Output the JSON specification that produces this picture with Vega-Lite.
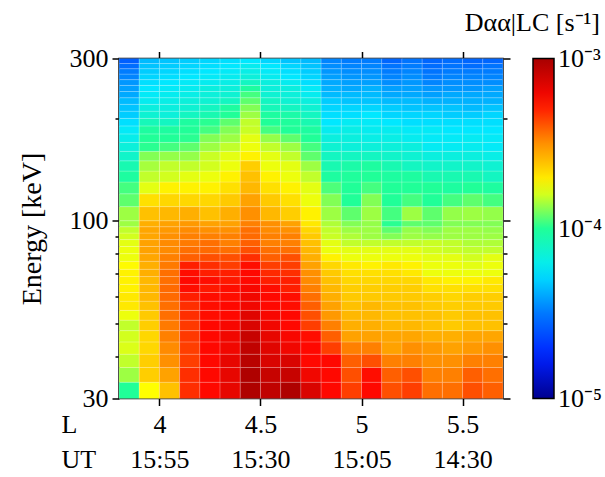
{
  "$schema": "https://vega.github.io/schema/vega-lite/v6.json",
  "width": 384,
  "height": 340,
  "autosize": {"type": "none"},
  "padding": {"left": 119, "top": 58.5, "right": 102, "bottom": 78.5},
  "background": "white",
  "title": {
    "text": "Dαα|LC [s⁻¹]",
    "anchor": "end",
    "frame": "group",
    "dx": 97,
    "dy": 37,
    "offset": 26,
    "baseline": "alphabetic",
    "fontSize": 26,
    "fontWeight": "normal",
    "color": "black"
  },
  "datasets": {
    "cols": [
      {"c": 0, "l0": 3.8, "l1": 3.9}, {"c": 1, "l0": 3.9, "l1": 4.0}, {"c": 2, "l0": 4.0, "l1": 4.1},
      {"c": 3, "l0": 4.1, "l1": 4.2}, {"c": 4, "l0": 4.2, "l1": 4.3}, {"c": 5, "l0": 4.3, "l1": 4.4},
      {"c": 6, "l0": 4.4, "l1": 4.5}, {"c": 7, "l0": 4.5, "l1": 4.6}, {"c": 8, "l0": 4.6, "l1": 4.7},
      {"c": 9, "l0": 4.7, "l1": 4.8}, {"c": 10, "l0": 4.8, "l1": 4.9}, {"c": 11, "l0": 4.9, "l1": 5.0},
      {"c": 12, "l0": 5.0, "l1": 5.1}, {"c": 13, "l0": 5.1, "l1": 5.2}, {"c": 14, "l0": 5.2, "l1": 5.3},
      {"c": 15, "l0": 5.3, "l1": 5.4}, {"c": 16, "l0": 5.4, "l1": 5.5}, {"c": 17, "l0": 5.5, "l1": 5.6},
      {"c": 18, "l0": 5.6, "l1": 5.7}
    ],
    "rows": [
      {"r": 0, "e0": 30, "e1": 33.5}, {"r": 1, "e0": 33.5, "e1": 37}, {"r": 2, "e0": 37, "e1": 40.5},
      {"r": 3, "e0": 40.5, "e1": 44}, {"r": 4, "e0": 44, "e1": 47.5}, {"r": 5, "e0": 47.5, "e1": 51},
      {"r": 6, "e0": 51, "e1": 54.5}, {"r": 7, "e0": 54.5, "e1": 58}, {"r": 8, "e0": 58, "e1": 61.5},
      {"r": 9, "e0": 61.5, "e1": 65}, {"r": 10, "e0": 65, "e1": 68.5}, {"r": 11, "e0": 68.5, "e1": 72},
      {"r": 12, "e0": 72, "e1": 76}, {"r": 13, "e0": 76, "e1": 80}, {"r": 14, "e0": 80, "e1": 84},
      {"r": 15, "e0": 84, "e1": 88}, {"r": 16, "e0": 88, "e1": 92}, {"r": 17, "e0": 92, "e1": 96},
      {"r": 18, "e0": 96, "e1": 100}, {"r": 19, "e0": 100, "e1": 110}, {"r": 20, "e0": 110, "e1": 120},
      {"r": 21, "e0": 120, "e1": 130}, {"r": 22, "e0": 130, "e1": 140}, {"r": 23, "e0": 140, "e1": 150},
      {"r": 24, "e0": 150, "e1": 160}, {"r": 25, "e0": 160, "e1": 170}, {"r": 26, "e0": 170, "e1": 180},
      {"r": 27, "e0": 180, "e1": 190}, {"r": 28, "e0": 190, "e1": 200}, {"r": 29, "e0": 200, "e1": 210},
      {"r": 30, "e0": 210, "e1": 220}, {"r": 31, "e0": 220, "e1": 230}, {"r": 32, "e0": 230, "e1": 240},
      {"r": 33, "e0": 240, "e1": 250}, {"r": 34, "e0": 250, "e1": 260}, {"r": 35, "e0": 260, "e1": 270},
      {"r": 36, "e0": 270, "e1": 280}, {"r": 37, "e0": 280, "e1": 290}, {"r": 38, "e0": 290, "e1": 300}
    ],
    "cells": [
      {"c":0,"r":0,"v":-4.00},{"c":0,"r":1,"v":-3.86},{"c":0,"r":2,"v":-3.82},{"c":0,"r":3,"v":-3.79},{"c":0,"r":4,"v":-3.80},{"c":0,"r":5,"v":-3.82},{"c":0,"r":6,"v":-3.77},{"c":0,"r":7,"v":-3.70},{"c":0,"r":8,"v":-3.70},{"c":0,"r":9,"v":-3.72},{"c":0,"r":10,"v":-3.72},{"c":0,"r":11,"v":-3.72},{"c":0,"r":12,"v":-3.74},{"c":0,"r":13,"v":-3.77},{"c":0,"r":14,"v":-3.77},{"c":0,"r":15,"v":-3.78},{"c":0,"r":16,"v":-3.80},{"c":0,"r":17,"v":-3.82},{"c":0,"r":18,"v":-3.86},
      {"c":0,"r":19,"v":-3.86},{"c":0,"r":20,"v":-3.93},{"c":0,"r":21,"v":-3.96},{"c":0,"r":22,"v":-4.02},{"c":0,"r":23,"v":-4.06},{"c":0,"r":24,"v":-4.12},{"c":0,"r":25,"v":-4.16},{"c":0,"r":26,"v":-4.20},{"c":0,"r":27,"v":-4.23},{"c":0,"r":28,"v":-4.27},{"c":0,"r":29,"v":-4.31},{"c":0,"r":30,"v":-4.33},{"c":0,"r":31,"v":-4.35},{"c":0,"r":32,"v":-4.39},{"c":0,"r":33,"v":-4.41},{"c":0,"r":34,"v":-4.43},{"c":0,"r":35,"v":-4.47},{"c":0,"r":36,"v":-4.49},{"c":0,"r":37,"v":-4.53},{"c":0,"r":38,"v":-4.57},
      {"c":1,"r":0,"v":-3.75},{"c":1,"r":1,"v":-3.64},{"c":1,"r":2,"v":-3.64},{"c":1,"r":3,"v":-3.66},{"c":1,"r":4,"v":-3.66},{"c":1,"r":5,"v":-3.64},{"c":1,"r":6,"v":-3.63},{"c":1,"r":7,"v":-3.61},{"c":1,"r":8,"v":-3.59},{"c":1,"r":9,"v":-3.59},{"c":1,"r":10,"v":-3.59},{"c":1,"r":11,"v":-3.57},{"c":1,"r":12,"v":-3.57},{"c":1,"r":13,"v":-3.55},{"c":1,"r":14,"v":-3.54},{"c":1,"r":15,"v":-3.54},{"c":1,"r":16,"v":-3.55},{"c":1,"r":17,"v":-3.55},{"c":1,"r":18,"v":-3.57},
      {"c":1,"r":19,"v":-3.61},{"c":1,"r":20,"v":-3.68},{"c":1,"r":21,"v":-3.78},{"c":1,"r":22,"v":-3.82},{"c":1,"r":23,"v":-3.85},{"c":1,"r":24,"v":-3.89},{"c":1,"r":25,"v":-3.99},{"c":1,"r":26,"v":-4.00},{"c":1,"r":27,"v":-4.02},{"c":1,"r":28,"v":-4.08},{"c":1,"r":29,"v":-4.14},{"c":1,"r":30,"v":-4.17},{"c":1,"r":31,"v":-4.21},{"c":1,"r":32,"v":-4.23},{"c":1,"r":33,"v":-4.25},{"c":1,"r":34,"v":-4.27},{"c":1,"r":35,"v":-4.29},{"c":1,"r":36,"v":-4.31},{"c":1,"r":37,"v":-4.33},{"c":1,"r":38,"v":-4.35},
      {"c":2,"r":0,"v":-3.61},{"c":2,"r":1,"v":-3.54},{"c":2,"r":2,"v":-3.50},{"c":2,"r":3,"v":-3.49},{"c":2,"r":4,"v":-3.47},{"c":2,"r":5,"v":-3.46},{"c":2,"r":6,"v":-3.44},{"c":2,"r":7,"v":-3.44},{"c":2,"r":8,"v":-3.43},{"c":2,"r":9,"v":-3.43},{"c":2,"r":10,"v":-3.44},{"c":2,"r":11,"v":-3.44},{"c":2,"r":12,"v":-3.46},{"c":2,"r":13,"v":-3.47},{"c":2,"r":14,"v":-3.49},{"c":2,"r":15,"v":-3.49},{"c":2,"r":16,"v":-3.50},{"c":2,"r":17,"v":-3.52},{"c":2,"r":18,"v":-3.54},
      {"c":2,"r":19,"v":-3.59},{"c":2,"r":20,"v":-3.66},{"c":2,"r":21,"v":-3.72},{"c":2,"r":22,"v":-3.80},{"c":2,"r":23,"v":-3.82},{"c":2,"r":24,"v":-3.87},{"c":2,"r":25,"v":-3.96},{"c":2,"r":26,"v":-4.00},{"c":2,"r":27,"v":-4.02},{"c":2,"r":28,"v":-4.10},{"c":2,"r":29,"v":-4.16},{"c":2,"r":30,"v":-4.17},{"c":2,"r":31,"v":-4.19},{"c":2,"r":32,"v":-4.21},{"c":2,"r":33,"v":-4.23},{"c":2,"r":34,"v":-4.25},{"c":2,"r":35,"v":-4.27},{"c":2,"r":36,"v":-4.29},{"c":2,"r":37,"v":-4.31},{"c":2,"r":38,"v":-4.33},
      {"c":3,"r":0,"v":-3.32},{"c":3,"r":1,"v":-3.32},{"c":3,"r":2,"v":-3.35},{"c":3,"r":3,"v":-3.35},{"c":3,"r":4,"v":-3.34},{"c":3,"r":5,"v":-3.34},{"c":3,"r":6,"v":-3.32},{"c":3,"r":7,"v":-3.32},{"c":3,"r":8,"v":-3.29},{"c":3,"r":9,"v":-3.26},{"c":3,"r":10,"v":-3.25},{"c":3,"r":11,"v":-3.26},{"c":3,"r":12,"v":-3.29},{"c":3,"r":13,"v":-3.41},{"c":3,"r":14,"v":-3.44},{"c":3,"r":15,"v":-3.46},{"c":3,"r":16,"v":-3.47},{"c":3,"r":17,"v":-3.49},{"c":3,"r":18,"v":-3.52},
      {"c":3,"r":19,"v":-3.57},{"c":3,"r":20,"v":-3.66},{"c":3,"r":21,"v":-3.72},{"c":3,"r":22,"v":-3.78},{"c":3,"r":23,"v":-3.82},{"c":3,"r":24,"v":-3.87},{"c":3,"r":25,"v":-3.93},{"c":3,"r":26,"v":-3.99},{"c":3,"r":27,"v":-4.00},{"c":3,"r":28,"v":-4.02},{"c":3,"r":29,"v":-4.10},{"c":3,"r":30,"v":-4.14},{"c":3,"r":31,"v":-4.16},{"c":3,"r":32,"v":-4.19},{"c":3,"r":33,"v":-4.21},{"c":3,"r":34,"v":-4.23},{"c":3,"r":35,"v":-4.25},{"c":3,"r":36,"v":-4.27},{"c":3,"r":37,"v":-4.29},{"c":3,"r":38,"v":-4.31},
      {"c":4,"r":0,"v":-3.25},{"c":4,"r":1,"v":-3.25},{"c":4,"r":2,"v":-3.25},{"c":4,"r":3,"v":-3.25},{"c":4,"r":4,"v":-3.25},{"c":4,"r":5,"v":-3.25},{"c":4,"r":6,"v":-3.26},{"c":4,"r":7,"v":-3.26},{"c":4,"r":8,"v":-3.26},{"c":4,"r":9,"v":-3.28},{"c":4,"r":10,"v":-3.26},{"c":4,"r":11,"v":-3.29},{"c":4,"r":12,"v":-3.32},{"c":4,"r":13,"v":-3.38},{"c":4,"r":14,"v":-3.43},{"c":4,"r":15,"v":-3.44},{"c":4,"r":16,"v":-3.47},{"c":4,"r":17,"v":-3.50},{"c":4,"r":18,"v":-3.54},
      {"c":4,"r":19,"v":-3.61},{"c":4,"r":20,"v":-3.66},{"c":4,"r":21,"v":-3.72},{"c":4,"r":22,"v":-3.77},{"c":4,"r":23,"v":-3.80},{"c":4,"r":24,"v":-3.81},{"c":4,"r":25,"v":-3.86},{"c":4,"r":26,"v":-3.89},{"c":4,"r":27,"v":-3.96},{"c":4,"r":28,"v":-3.99},{"c":4,"r":29,"v":-4.06},{"c":4,"r":30,"v":-4.10},{"c":4,"r":31,"v":-4.14},{"c":4,"r":32,"v":-4.16},{"c":4,"r":33,"v":-4.17},{"c":4,"r":34,"v":-4.21},{"c":4,"r":35,"v":-4.23},{"c":4,"r":36,"v":-4.25},{"c":4,"r":37,"v":-4.27},{"c":4,"r":38,"v":-4.29},
      {"c":5,"r":0,"v":-3.18},{"c":5,"r":1,"v":-3.18},{"c":5,"r":2,"v":-3.18},{"c":5,"r":3,"v":-3.21},{"c":5,"r":4,"v":-3.21},{"c":5,"r":5,"v":-3.23},{"c":5,"r":6,"v":-3.25},{"c":5,"r":7,"v":-3.25},{"c":5,"r":8,"v":-3.26},{"c":5,"r":9,"v":-3.26},{"c":5,"r":10,"v":-3.28},{"c":5,"r":11,"v":-3.29},{"c":5,"r":12,"v":-3.35},{"c":5,"r":13,"v":-3.38},{"c":5,"r":14,"v":-3.44},{"c":5,"r":15,"v":-3.47},{"c":5,"r":16,"v":-3.47},{"c":5,"r":17,"v":-3.50},{"c":5,"r":18,"v":-3.54},
      {"c":5,"r":19,"v":-3.57},{"c":5,"r":20,"v":-3.63},{"c":5,"r":21,"v":-3.68},{"c":5,"r":22,"v":-3.72},{"c":5,"r":23,"v":-3.77},{"c":5,"r":24,"v":-3.78},{"c":5,"r":25,"v":-3.82},{"c":5,"r":26,"v":-3.86},{"c":5,"r":27,"v":-3.89},{"c":5,"r":28,"v":-3.93},{"c":5,"r":29,"v":-4.00},{"c":5,"r":30,"v":-4.02},{"c":5,"r":31,"v":-4.10},{"c":5,"r":32,"v":-4.14},{"c":5,"r":33,"v":-4.16},{"c":5,"r":34,"v":-4.19},{"c":5,"r":35,"v":-4.21},{"c":5,"r":36,"v":-4.23},{"c":5,"r":37,"v":-4.25},{"c":5,"r":38,"v":-4.27},
      {"c":6,"r":0,"v":-3.02},{"c":6,"r":1,"v":-3.02},{"c":6,"r":2,"v":-3.05},{"c":6,"r":3,"v":-3.07},{"c":6,"r":4,"v":-3.09},{"c":6,"r":5,"v":-3.14},{"c":6,"r":6,"v":-3.16},{"c":6,"r":7,"v":-3.21},{"c":6,"r":8,"v":-3.21},{"c":6,"r":9,"v":-3.23},{"c":6,"r":10,"v":-3.25},{"c":6,"r":11,"v":-3.25},{"c":6,"r":12,"v":-3.26},{"c":6,"r":13,"v":-3.32},{"c":6,"r":14,"v":-3.38},{"c":6,"r":15,"v":-3.41},{"c":6,"r":16,"v":-3.43},{"c":6,"r":17,"v":-3.44},{"c":6,"r":18,"v":-3.47},
      {"c":6,"r":19,"v":-3.50},{"c":6,"r":20,"v":-3.54},{"c":6,"r":21,"v":-3.59},{"c":6,"r":22,"v":-3.61},{"c":6,"r":23,"v":-3.64},{"c":6,"r":24,"v":-3.72},{"c":6,"r":25,"v":-3.77},{"c":6,"r":26,"v":-3.78},{"c":6,"r":27,"v":-3.81},{"c":6,"r":28,"v":-3.82},{"c":6,"r":29,"v":-3.86},{"c":6,"r":30,"v":-3.89},{"c":6,"r":31,"v":-3.93},{"c":6,"r":32,"v":-3.96},{"c":6,"r":33,"v":-4.02},{"c":6,"r":34,"v":-4.10},{"c":6,"r":35,"v":-4.16},{"c":6,"r":36,"v":-4.19},{"c":6,"r":37,"v":-4.21},{"c":6,"r":38,"v":-4.25},
      {"c":7,"r":0,"v":-3.07},{"c":7,"r":1,"v":-3.09},{"c":7,"r":2,"v":-3.14},{"c":7,"r":3,"v":-3.16},{"c":7,"r":4,"v":-3.18},{"c":7,"r":5,"v":-3.21},{"c":7,"r":6,"v":-3.23},{"c":7,"r":7,"v":-3.25},{"c":7,"r":8,"v":-3.25},{"c":7,"r":9,"v":-3.26},{"c":7,"r":10,"v":-3.29},{"c":7,"r":11,"v":-3.31},{"c":7,"r":12,"v":-3.35},{"c":7,"r":13,"v":-3.41},{"c":7,"r":14,"v":-3.44},{"c":7,"r":15,"v":-3.47},{"c":7,"r":16,"v":-3.47},{"c":7,"r":17,"v":-3.49},{"c":7,"r":18,"v":-3.50},
      {"c":7,"r":19,"v":-3.59},{"c":7,"r":20,"v":-3.63},{"c":7,"r":21,"v":-3.68},{"c":7,"r":22,"v":-3.72},{"c":7,"r":23,"v":-3.77},{"c":7,"r":24,"v":-3.78},{"c":7,"r":25,"v":-3.82},{"c":7,"r":26,"v":-3.87},{"c":7,"r":27,"v":-3.96},{"c":7,"r":28,"v":-4.00},{"c":7,"r":29,"v":-4.02},{"c":7,"r":30,"v":-4.08},{"c":7,"r":31,"v":-4.10},{"c":7,"r":32,"v":-4.14},{"c":7,"r":33,"v":-4.16},{"c":7,"r":34,"v":-4.17},{"c":7,"r":35,"v":-4.21},{"c":7,"r":36,"v":-4.23},{"c":7,"r":37,"v":-4.25},{"c":7,"r":38,"v":-4.29},
      {"c":8,"r":0,"v":-3.02},{"c":8,"r":1,"v":-3.09},{"c":8,"r":2,"v":-3.14},{"c":8,"r":3,"v":-3.21},{"c":8,"r":4,"v":-3.23},{"c":8,"r":5,"v":-3.25},{"c":8,"r":6,"v":-3.25},{"c":8,"r":7,"v":-3.26},{"c":8,"r":8,"v":-3.26},{"c":8,"r":9,"v":-3.29},{"c":8,"r":10,"v":-3.29},{"c":8,"r":11,"v":-3.32},{"c":8,"r":12,"v":-3.35},{"c":8,"r":13,"v":-3.38},{"c":8,"r":14,"v":-3.44},{"c":8,"r":15,"v":-3.47},{"c":8,"r":16,"v":-3.47},{"c":8,"r":17,"v":-3.50},{"c":8,"r":18,"v":-3.54},
      {"c":8,"r":19,"v":-3.64},{"c":8,"r":20,"v":-3.68},{"c":8,"r":21,"v":-3.72},{"c":8,"r":22,"v":-3.77},{"c":8,"r":23,"v":-3.78},{"c":8,"r":24,"v":-3.82},{"c":8,"r":25,"v":-3.86},{"c":8,"r":26,"v":-3.93},{"c":8,"r":27,"v":-4.00},{"c":8,"r":28,"v":-4.01},{"c":8,"r":29,"v":-4.04},{"c":8,"r":30,"v":-4.10},{"c":8,"r":31,"v":-4.14},{"c":8,"r":32,"v":-4.16},{"c":8,"r":33,"v":-4.17},{"c":8,"r":34,"v":-4.21},{"c":8,"r":35,"v":-4.25},{"c":8,"r":36,"v":-4.27},{"c":8,"r":37,"v":-4.29},{"c":8,"r":38,"v":-4.33},
      {"c":9,"r":0,"v":-3.14},{"c":9,"r":1,"v":-3.21},{"c":9,"r":2,"v":-3.25},{"c":9,"r":3,"v":-3.25},{"c":9,"r":4,"v":-3.26},{"c":9,"r":5,"v":-3.35},{"c":9,"r":6,"v":-3.38},{"c":9,"r":7,"v":-3.41},{"c":9,"r":8,"v":-3.44},{"c":9,"r":9,"v":-3.47},{"c":9,"r":10,"v":-3.49},{"c":9,"r":11,"v":-3.50},{"c":9,"r":12,"v":-3.54},{"c":9,"r":13,"v":-3.57},{"c":9,"r":14,"v":-3.59},{"c":9,"r":15,"v":-3.61},{"c":9,"r":16,"v":-3.63},{"c":9,"r":17,"v":-3.66},{"c":9,"r":18,"v":-3.70},
      {"c":9,"r":19,"v":-3.72},{"c":9,"r":20,"v":-3.77},{"c":9,"r":21,"v":-3.78},{"c":9,"r":22,"v":-3.82},{"c":9,"r":23,"v":-3.86},{"c":9,"r":24,"v":-3.93},{"c":9,"r":25,"v":-3.96},{"c":9,"r":26,"v":-4.00},{"c":9,"r":27,"v":-4.02},{"c":9,"r":28,"v":-4.06},{"c":9,"r":29,"v":-4.10},{"c":9,"r":30,"v":-4.14},{"c":9,"r":31,"v":-4.17},{"c":9,"r":32,"v":-4.21},{"c":9,"r":33,"v":-4.23},{"c":9,"r":34,"v":-4.27},{"c":9,"r":35,"v":-4.29},{"c":9,"r":36,"v":-4.31},{"c":9,"r":37,"v":-4.33},{"c":9,"r":38,"v":-4.35},
      {"c":10,"r":0,"v":-3.25},{"c":10,"r":1,"v":-3.25},{"c":10,"r":2,"v":-3.25},{"c":10,"r":3,"v":-3.35},{"c":10,"r":4,"v":-3.41},{"c":10,"r":5,"v":-3.47},{"c":10,"r":6,"v":-3.52},{"c":10,"r":7,"v":-3.54},{"c":10,"r":8,"v":-3.57},{"c":10,"r":9,"v":-3.59},{"c":10,"r":10,"v":-3.61},{"c":10,"r":11,"v":-3.63},{"c":10,"r":12,"v":-3.66},{"c":10,"r":13,"v":-3.72},{"c":10,"r":14,"v":-3.77},{"c":10,"r":15,"v":-3.78},{"c":10,"r":16,"v":-3.81},{"c":10,"r":17,"v":-3.82},{"c":10,"r":18,"v":-3.84},
      {"c":10,"r":19,"v":-3.86},{"c":10,"r":20,"v":-3.89},{"c":10,"r":21,"v":-3.95},{"c":10,"r":22,"v":-4.02},{"c":10,"r":23,"v":-4.06},{"c":10,"r":24,"v":-4.10},{"c":10,"r":25,"v":-4.14},{"c":10,"r":26,"v":-4.17},{"c":10,"r":27,"v":-4.21},{"c":10,"r":28,"v":-4.25},{"c":10,"r":29,"v":-4.27},{"c":10,"r":30,"v":-4.29},{"c":10,"r":31,"v":-4.31},{"c":10,"r":32,"v":-4.35},{"c":10,"r":33,"v":-4.37},{"c":10,"r":34,"v":-4.39},{"c":10,"r":35,"v":-4.41},{"c":10,"r":36,"v":-4.43},{"c":10,"r":37,"v":-4.45},{"c":10,"r":38,"v":-4.47},
      {"c":11,"r":0,"v":-3.35},{"c":11,"r":1,"v":-3.38},{"c":11,"r":2,"v":-3.41},{"c":11,"r":3,"v":-3.47},{"c":11,"r":4,"v":-3.54},{"c":11,"r":5,"v":-3.57},{"c":11,"r":6,"v":-3.59},{"c":11,"r":7,"v":-3.61},{"c":11,"r":8,"v":-3.63},{"c":11,"r":9,"v":-3.64},{"c":11,"r":10,"v":-3.66},{"c":11,"r":11,"v":-3.68},{"c":11,"r":12,"v":-3.70},{"c":11,"r":13,"v":-3.77},{"c":11,"r":14,"v":-3.78},{"c":11,"r":15,"v":-3.82},{"c":11,"r":16,"v":-3.84},{"c":11,"r":17,"v":-3.86},{"c":11,"r":18,"v":-3.89},
      {"c":11,"r":19,"v":-3.93},{"c":11,"r":20,"v":-4.00},{"c":11,"r":21,"v":-4.00},{"c":11,"r":22,"v":-4.01},{"c":11,"r":23,"v":-4.04},{"c":11,"r":24,"v":-4.10},{"c":11,"r":25,"v":-4.16},{"c":11,"r":26,"v":-4.17},{"c":11,"r":27,"v":-4.19},{"c":11,"r":28,"v":-4.22},{"c":11,"r":29,"v":-4.27},{"c":11,"r":30,"v":-4.29},{"c":11,"r":31,"v":-4.33},{"c":11,"r":32,"v":-4.35},{"c":11,"r":33,"v":-4.39},{"c":11,"r":34,"v":-4.41},{"c":11,"r":35,"v":-4.43},{"c":11,"r":36,"v":-4.45},{"c":11,"r":37,"v":-4.47},{"c":11,"r":38,"v":-4.49},
      {"c":12,"r":0,"v":-3.25},{"c":12,"r":1,"v":-3.26},{"c":12,"r":2,"v":-3.38},{"c":12,"r":3,"v":-3.47},{"c":12,"r":4,"v":-3.54},{"c":12,"r":5,"v":-3.57},{"c":12,"r":6,"v":-3.59},{"c":12,"r":7,"v":-3.59},{"c":12,"r":8,"v":-3.63},{"c":12,"r":9,"v":-3.64},{"c":12,"r":10,"v":-3.66},{"c":12,"r":11,"v":-3.68},{"c":12,"r":12,"v":-3.72},{"c":12,"r":13,"v":-3.77},{"c":12,"r":14,"v":-3.78},{"c":12,"r":15,"v":-3.82},{"c":12,"r":16,"v":-3.86},{"c":12,"r":17,"v":-3.86},{"c":12,"r":18,"v":-3.87},
      {"c":12,"r":19,"v":-3.86},{"c":12,"r":20,"v":-3.89},{"c":12,"r":21,"v":-3.96},{"c":12,"r":22,"v":-4.00},{"c":12,"r":23,"v":-4.02},{"c":12,"r":24,"v":-4.10},{"c":12,"r":25,"v":-4.16},{"c":12,"r":26,"v":-4.19},{"c":12,"r":27,"v":-4.21},{"c":12,"r":28,"v":-4.23},{"c":12,"r":29,"v":-4.25},{"c":12,"r":30,"v":-4.29},{"c":12,"r":31,"v":-4.33},{"c":12,"r":32,"v":-4.35},{"c":12,"r":33,"v":-4.37},{"c":12,"r":34,"v":-4.41},{"c":12,"r":35,"v":-4.43},{"c":12,"r":36,"v":-4.45},{"c":12,"r":37,"v":-4.47},{"c":12,"r":38,"v":-4.49},
      {"c":13,"r":0,"v":-3.38},{"c":13,"r":1,"v":-3.41},{"c":13,"r":2,"v":-3.47},{"c":13,"r":3,"v":-3.54},{"c":13,"r":4,"v":-3.55},{"c":13,"r":5,"v":-3.59},{"c":13,"r":6,"v":-3.61},{"c":13,"r":7,"v":-3.61},{"c":13,"r":8,"v":-3.63},{"c":13,"r":9,"v":-3.64},{"c":13,"r":10,"v":-3.66},{"c":13,"r":11,"v":-3.68},{"c":13,"r":12,"v":-3.70},{"c":13,"r":13,"v":-3.77},{"c":13,"r":14,"v":-3.78},{"c":13,"r":15,"v":-3.82},{"c":13,"r":16,"v":-3.89},{"c":13,"r":17,"v":-3.93},{"c":13,"r":18,"v":-3.99},
      {"c":13,"r":19,"v":-3.96},{"c":13,"r":20,"v":-4.00},{"c":13,"r":21,"v":-4.00},{"c":13,"r":22,"v":-4.02},{"c":13,"r":23,"v":-4.06},{"c":13,"r":24,"v":-4.12},{"c":13,"r":25,"v":-4.16},{"c":13,"r":26,"v":-4.19},{"c":13,"r":27,"v":-4.21},{"c":13,"r":28,"v":-4.25},{"c":13,"r":29,"v":-4.29},{"c":13,"r":30,"v":-4.31},{"c":13,"r":31,"v":-4.35},{"c":13,"r":32,"v":-4.39},{"c":13,"r":33,"v":-4.41},{"c":13,"r":34,"v":-4.45},{"c":13,"r":35,"v":-4.47},{"c":13,"r":36,"v":-4.49},{"c":13,"r":37,"v":-4.51},{"c":13,"r":38,"v":-4.55},
      {"c":14,"r":0,"v":-3.35},{"c":14,"r":1,"v":-3.38},{"c":14,"r":2,"v":-3.47},{"c":14,"r":3,"v":-3.50},{"c":14,"r":4,"v":-3.55},{"c":14,"r":5,"v":-3.59},{"c":14,"r":6,"v":-3.61},{"c":14,"r":7,"v":-3.61},{"c":14,"r":8,"v":-3.63},{"c":14,"r":9,"v":-3.64},{"c":14,"r":10,"v":-3.66},{"c":14,"r":11,"v":-3.70},{"c":14,"r":12,"v":-3.72},{"c":14,"r":13,"v":-3.77},{"c":14,"r":14,"v":-3.78},{"c":14,"r":15,"v":-3.82},{"c":14,"r":16,"v":-3.86},{"c":14,"r":17,"v":-3.87},{"c":14,"r":18,"v":-3.93},
      {"c":14,"r":19,"v":-3.86},{"c":14,"r":20,"v":-3.96},{"c":14,"r":21,"v":-4.00},{"c":14,"r":22,"v":-4.02},{"c":14,"r":23,"v":-4.10},{"c":14,"r":24,"v":-4.14},{"c":14,"r":25,"v":-4.17},{"c":14,"r":26,"v":-4.21},{"c":14,"r":27,"v":-4.23},{"c":14,"r":28,"v":-4.27},{"c":14,"r":29,"v":-4.29},{"c":14,"r":30,"v":-4.33},{"c":14,"r":31,"v":-4.35},{"c":14,"r":32,"v":-4.39},{"c":14,"r":33,"v":-4.41},{"c":14,"r":34,"v":-4.43},{"c":14,"r":35,"v":-4.45},{"c":14,"r":36,"v":-4.47},{"c":14,"r":37,"v":-4.49},{"c":14,"r":38,"v":-4.51},
      {"c":15,"r":0,"v":-3.44},{"c":15,"r":1,"v":-3.47},{"c":15,"r":2,"v":-3.50},{"c":15,"r":3,"v":-3.52},{"c":15,"r":4,"v":-3.57},{"c":15,"r":5,"v":-3.61},{"c":15,"r":6,"v":-3.61},{"c":15,"r":7,"v":-3.63},{"c":15,"r":8,"v":-3.64},{"c":15,"r":9,"v":-3.68},{"c":15,"r":10,"v":-3.70},{"c":15,"r":11,"v":-3.77},{"c":15,"r":12,"v":-3.77},{"c":15,"r":13,"v":-3.78},{"c":15,"r":14,"v":-3.80},{"c":15,"r":15,"v":-3.81},{"c":15,"r":16,"v":-3.87},{"c":15,"r":17,"v":-3.89},{"c":15,"r":18,"v":-3.93},
      {"c":15,"r":19,"v":-3.93},{"c":15,"r":20,"v":-4.00},{"c":15,"r":21,"v":-4.00},{"c":15,"r":22,"v":-4.06},{"c":15,"r":23,"v":-4.12},{"c":15,"r":24,"v":-4.17},{"c":15,"r":25,"v":-4.22},{"c":15,"r":26,"v":-4.23},{"c":15,"r":27,"v":-4.23},{"c":15,"r":28,"v":-4.27},{"c":15,"r":29,"v":-4.29},{"c":15,"r":30,"v":-4.33},{"c":15,"r":31,"v":-4.37},{"c":15,"r":32,"v":-4.41},{"c":15,"r":33,"v":-4.43},{"c":15,"r":34,"v":-4.47},{"c":15,"r":35,"v":-4.49},{"c":15,"r":36,"v":-4.51},{"c":15,"r":37,"v":-4.53},{"c":15,"r":38,"v":-4.55},
      {"c":16,"r":0,"v":-3.44},{"c":16,"r":1,"v":-3.47},{"c":16,"r":2,"v":-3.50},{"c":16,"r":3,"v":-3.54},{"c":16,"r":4,"v":-3.57},{"c":16,"r":5,"v":-3.63},{"c":16,"r":6,"v":-3.63},{"c":16,"r":7,"v":-3.64},{"c":16,"r":8,"v":-3.66},{"c":16,"r":9,"v":-3.68},{"c":16,"r":10,"v":-3.72},{"c":16,"r":11,"v":-3.77},{"c":16,"r":12,"v":-3.77},{"c":16,"r":13,"v":-3.78},{"c":16,"r":14,"v":-3.81},{"c":16,"r":15,"v":-3.82},{"c":16,"r":16,"v":-3.86},{"c":16,"r":17,"v":-3.86},{"c":16,"r":18,"v":-3.89},
      {"c":16,"r":19,"v":-3.87},{"c":16,"r":20,"v":-3.96},{"c":16,"r":21,"v":-4.02},{"c":16,"r":22,"v":-4.06},{"c":16,"r":23,"v":-4.12},{"c":16,"r":24,"v":-4.17},{"c":16,"r":25,"v":-4.22},{"c":16,"r":26,"v":-4.23},{"c":16,"r":27,"v":-4.25},{"c":16,"r":28,"v":-4.27},{"c":16,"r":29,"v":-4.31},{"c":16,"r":30,"v":-4.33},{"c":16,"r":31,"v":-4.37},{"c":16,"r":32,"v":-4.39},{"c":16,"r":33,"v":-4.43},{"c":16,"r":34,"v":-4.45},{"c":16,"r":35,"v":-4.47},{"c":16,"r":36,"v":-4.49},{"c":16,"r":37,"v":-4.51},{"c":16,"r":38,"v":-4.53},
      {"c":17,"r":0,"v":-3.38},{"c":17,"r":1,"v":-3.41},{"c":17,"r":2,"v":-3.47},{"c":17,"r":3,"v":-3.52},{"c":17,"r":4,"v":-3.55},{"c":17,"r":5,"v":-3.61},{"c":17,"r":6,"v":-3.61},{"c":17,"r":7,"v":-3.63},{"c":17,"r":8,"v":-3.64},{"c":17,"r":9,"v":-3.68},{"c":17,"r":10,"v":-3.72},{"c":17,"r":11,"v":-3.77},{"c":17,"r":12,"v":-3.78},{"c":17,"r":13,"v":-3.80},{"c":17,"r":14,"v":-3.82},{"c":17,"r":15,"v":-3.84},{"c":17,"r":16,"v":-3.86},{"c":17,"r":17,"v":-3.86},{"c":17,"r":18,"v":-3.89},
      {"c":17,"r":19,"v":-3.86},{"c":17,"r":20,"v":-3.93},{"c":17,"r":21,"v":-4.00},{"c":17,"r":22,"v":-4.06},{"c":17,"r":23,"v":-4.12},{"c":17,"r":24,"v":-4.17},{"c":17,"r":25,"v":-4.21},{"c":17,"r":26,"v":-4.22},{"c":17,"r":27,"v":-4.25},{"c":17,"r":28,"v":-4.27},{"c":17,"r":29,"v":-4.31},{"c":17,"r":30,"v":-4.35},{"c":17,"r":31,"v":-4.37},{"c":17,"r":32,"v":-4.39},{"c":17,"r":33,"v":-4.43},{"c":17,"r":34,"v":-4.45},{"c":17,"r":35,"v":-4.47},{"c":17,"r":36,"v":-4.49},{"c":17,"r":37,"v":-4.53},{"c":17,"r":38,"v":-4.55},
      {"c":18,"r":0,"v":-3.41},{"c":18,"r":1,"v":-3.44},{"c":18,"r":2,"v":-3.47},{"c":18,"r":3,"v":-3.50},{"c":18,"r":4,"v":-3.55},{"c":18,"r":5,"v":-3.61},{"c":18,"r":6,"v":-3.61},{"c":18,"r":7,"v":-3.63},{"c":18,"r":8,"v":-3.64},{"c":18,"r":9,"v":-3.68},{"c":18,"r":10,"v":-3.70},{"c":18,"r":11,"v":-3.77},{"c":18,"r":12,"v":-3.77},{"c":18,"r":13,"v":-3.78},{"c":18,"r":14,"v":-3.82},{"c":18,"r":15,"v":-3.84},{"c":18,"r":16,"v":-3.86},{"c":18,"r":17,"v":-3.87},{"c":18,"r":18,"v":-3.89},
      {"c":18,"r":19,"v":-3.87},{"c":18,"r":20,"v":-3.96},{"c":18,"r":21,"v":-4.02},{"c":18,"r":22,"v":-4.10},{"c":18,"r":23,"v":-4.14},{"c":18,"r":24,"v":-4.19},{"c":18,"r":25,"v":-4.23},{"c":18,"r":26,"v":-4.23},{"c":18,"r":27,"v":-4.25},{"c":18,"r":28,"v":-4.27},{"c":18,"r":29,"v":-4.29},{"c":18,"r":30,"v":-4.33},{"c":18,"r":31,"v":-4.37},{"c":18,"r":32,"v":-4.39},{"c":18,"r":33,"v":-4.41},{"c":18,"r":34,"v":-4.45},{"c":18,"r":35,"v":-4.47},{"c":18,"r":36,"v":-4.49},{"c":18,"r":37,"v":-4.51},{"c":18,"r":38,"v":-4.55}
    ]
  },
  "data": {"name": "cells"},
  "transform": [
    {"lookup": "c", "from": {"data": {"name": "cols"}, "key": "c", "fields": ["l0", "l1"]}},
    {"lookup": "r", "from": {"data": {"name": "rows"}, "key": "r", "fields": ["e0", "e1"]}}
  ],
  "layer": [
    {
      "mark": {"type": "rect", "stroke": "white", "strokeOpacity": 0.3, "strokeWidth": 0.6},
      "encoding": {
        "x": {
          "field": "l0",
          "type": "quantitative",
          "scale": {"domain": [3.8, 5.7], "nice": false, "zero": false},
          "axis": {
            "orient": "bottom",
            "values": [4, 4.5, 5, 5.5],
            "labelExpr": "datum.value == 4 ? ['4', '15:55'] : datum.value == 4.5 ? ['4.5', '15:30'] : datum.value == 5 ? ['5', '15:05'] : ['5.5', '14:30']",
            "labelLineHeight": 35,
            "labelPadding": 6,
            "title": ["L", "UT"],
            "titleX": -58,
            "titleY": 13,
            "titleAlign": "left",
            "titleBaseline": "top",
            "titleLineHeight": 35
          }
        },
        "x2": {"field": "l1"},
        "y": {
          "field": "e0",
          "type": "quantitative",
          "scale": {"type": "log", "domain": [30, 300], "nice": false},
          "axis": {
            "orient": "left",
            "values": [30, 40, 50, 60, 70, 80, 90, 100, 200, 300],
            "labelExpr": "datum.value == 30 || datum.value == 100 || datum.value == 300 ? datum.label : ''",
            "tickSize": {"condition": {"test": "datum.value == 30 || datum.value == 100 || datum.value == 300", "value": 7}, "value": 4},
            "labelPadding": 4,
            "title": "Energy [keV]",
            "titleFontSize": 28,
            "titleX": -79,
            "titleY": 170,
            "titleAngle": -90,
            "titleAlign": "center",
            "titleBaseline": "alphabetic"
          }
        },
        "y2": {"field": "e1"},
        "color": {
          "field": "v",
          "type": "quantitative",
          "scale": {
            "domain": [-5, -4.75, -4.5, -4.25, -4, -3.75, -3.5, -3.25, -3],
            "range": ["#000090", "#0020ff", "#0078ff", "#00e8ff", "#20ff98", "#ffff00", "#ff9000", "#ff0800", "#a80000"],
            "interpolate": "rgb",
            "clamp": true
          },
          "legend": {
            "orient": "none",
            "legendX": 414,
            "legendY": 0,
            "direction": "vertical",
            "gradientLength": 340,
            "gradientThickness": 21,
            "gradientStrokeColor": "black",
            "gradientStrokeWidth": 1.5,
            "values": [-5, -4, -3],
            "labelExpr": "datum.value == -5 ? '10⁻⁵' : datum.value == -4 ? '10⁻⁴' : '10⁻³'",
            "labelFontSize": 26,
            "labelColor": "black",
            "labelOffset": 4,
            "labelOverlap": false,
            "title": null,
            "encode": {"labels": {"update": {"baseline": {"value": "middle"}}}}
          }
        }
      }
    },
    {
      "mark": {"type": "rect", "opacity": 0},
      "encoding": {
        "x": {
          "field": "l0",
          "type": "quantitative",
          "scale": {"domain": [3.8, 5.7], "nice": false, "zero": false},
          "axis": {"orient": "top", "values": [4, 4.5, 5, 5.5], "labels": false, "title": null}
        },
        "x2": {"field": "l1"},
        "y": {
          "field": "e0",
          "type": "quantitative",
          "scale": {"type": "log", "domain": [30, 300], "nice": false},
          "axis": {
            "orient": "right",
            "values": [30, 40, 50, 60, 70, 80, 90, 100, 200, 300],
            "labels": false,
            "tickSize": {"condition": {"test": "datum.value == 30 || datum.value == 100 || datum.value == 300", "value": 7}, "value": 4},
            "title": null
          }
        },
        "y2": {"field": "e1"}
      }
    }
  ],
  "resolve": {"axis": {"x": "independent", "y": "independent"}},
  "config": {
    "font": "Liberation Serif",
    "view": {"stroke": "black", "strokeWidth": 1.5},
    "axis": {
      "domain": false,
      "grid": false,
      "tickColor": "black",
      "tickWidth": 1.5,
      "tickSize": 7,
      "labelFontSize": 26,
      "labelColor": "black",
      "labelFlush": false,
      "labelOverlap": false,
      "labelBound": false,
      "titleFontSize": 26,
      "titleFontWeight": "normal",
      "titleColor": "black"
    }
  }
}
